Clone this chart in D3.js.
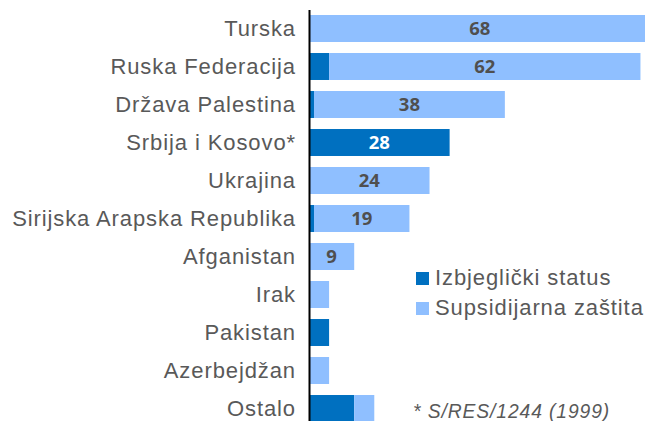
<!DOCTYPE html>
<html>
<head>
<meta charset="utf-8">
<script src="https://cdn.jsdelivr.net/npm/d3@7"></script>
<style>
  html, body { margin: 0; padding: 0; background: #fff; }
  svg { display: block; }
</style>
</head>
<body>
<svg id="chart" width="645" height="421"></svg>
<script>
// ---- data ----
const categories = ["Turska", "Ruska Federacija", "Država Palestina", "Srbija i Kosovo*", "Ukrajina",
  "Sirijska Arapska Republika", "Afganistan", "Irak", "Pakistan", "Azerbejdžan", "Ostalo"];
const izbjeglicki = [0, 4, 1, 28, 0, 1, 0, 0, 4, 0, 9];
const supsidijarna = [68, 62, 38, 0, 24, 19, 9, 4, 0, 4, 4];
const showLabelIzbj = [false, false, false, true, false, false, false, false, false, false, false];
const showLabelSups = [true, true, true, false, true, true, true, false, false, false, false];
const seriesNames = ["Izbjeglički status", "Supsidijarna zaštita"];
const footnote = "* S/RES/1244 (1999)";

// ---- styles ----
const colors = ["#0070C0", "#8FBFFF"];
const textGray = "#595959";

const svg = d3.select("#chart");

const x = d3.scaleLinear().domain([0, 68]).range([309, 650.5]);
const y = d3.scaleBand().domain(categories).range([9.5, 427.5])
  .paddingInner(0.29).paddingOuter(0.145);

const rows = categories.map((c, i) => ({
  cat: c,
  segs: [
    { s: 0, x0: 0, x1: izbjeglicki[i], v: izbjeglicki[i], show: showLabelIzbj[i] },
    { s: 1, x0: izbjeglicki[i], x1: izbjeglicki[i] + supsidijarna[i], v: supsidijarna[i], show: showLabelSups[i] }
  ]
}));

const g = svg.append("g");
rows.forEach(r => {
  r.segs.forEach(sg => {
    if (sg.v <= 0) return;
    g.append("rect")
      .attr("x", x(sg.x0))
      .attr("y", y(r.cat))
      .attr("width", x(sg.x1) - x(sg.x0))
      .attr("height", y.bandwidth())
      .attr("fill", colors[sg.s]);
    if (sg.show) {
      g.append("text")
        .attr("x", (x(sg.x0) + x(sg.x1)) / 2)
        .attr("y", y(r.cat) + y.bandwidth() / 2)
        .attr("dy", "0.36em")
        .attr("text-anchor", "middle")
        .attr("font-family", "'Open Sans', sans-serif")
        .attr("font-weight", 700)
        .attr("font-size", 18.5)
        .attr("fill", sg.s === 0 ? "#ffffff" : "#4f4f4f")
        .text(sg.v);
    }
  });
});

// axis
const axis = svg.append("g")
  .attr("transform", `translate(${x(0)},0)`)
  .call(d3.axisLeft(y).tickSize(0).tickSizeOuter(0).tickPadding(13));
axis.select(".domain").attr("stroke", "#000").attr("stroke-width", 2);
axis.selectAll("text")
  .attr("font-family", "'Liberation Sans', Arial, sans-serif")
  .attr("font-size", 22)
  .attr("letter-spacing", "0.9px")
  .attr("fill", textGray)
  .attr("dy", "0.36em");

// legend
const leg = svg.append("g");
seriesNames.forEach((n, i) => {
  const ly = 272 + i * 30;
  leg.append("rect").attr("x", 416).attr("y", ly).attr("width", 13).attr("height", 13).attr("fill", colors[i]);
  leg.append("text").attr("x", 435).attr("y", ly + 13)
    .attr("font-family", "'Liberation Sans', Arial, sans-serif")
    .attr("font-size", 22)
    .attr("letter-spacing", "0.9px")
    .attr("fill", textGray)
    .text(n);
});

// footnote
svg.append("text")
  .attr("x", 413).attr("y", 418)
  .attr("font-family", "'Liberation Sans', Arial, sans-serif")
  .attr("font-size", 19.3)
  .attr("font-style", "italic")
  .attr("letter-spacing", "0.9px")
  .attr("fill", textGray)
  .text(footnote);
</script>
</body>
</html>
